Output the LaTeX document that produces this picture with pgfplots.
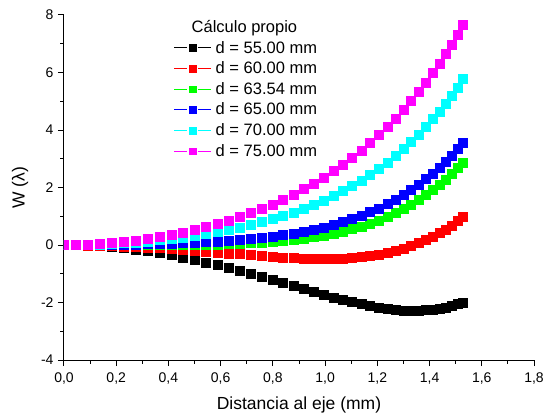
\documentclass[border=0pt]{standalone}
\usepackage{pgfplots}
\pgfplotsset{compat=1.18}
\usepackage{pgfplotstable}
\usepackage{fontspec}
\setmainfont{Liberation Sans}

\definecolor{orred}{RGB}{255,0,0}
\definecolor{orgreen}{RGB}{0,255,0}
\definecolor{orblue}{RGB}{0,0,255}
\definecolor{orcyan}{RGB}{0,255,255}
\definecolor{ormagenta}{RGB}{255,0,255}

% x (mm) and W for d = 55, 60, 63.54, 65, 70, 75 mm
\pgfplotstableread{
x      d55     d60     d6354  d65    d70    d75
0      0       0       0      0      0      0
0.0461 -0.004  -0.002  0.000  0.001  0.003  0.004
0.0922 -0.018  -0.007  0.000  0.002  0.010  0.017
0.1383 -0.040  -0.016  0.000  0.005  0.023  0.039
0.1842 -0.071  -0.028  0.000  0.010  0.042  0.069
0.2300 -0.111  -0.043  0.000  0.015  0.065  0.108
0.2757 -0.158  -0.062  0.000  0.022  0.094  0.155
0.3211 -0.214  -0.083  0.001  0.031  0.128  0.211
0.3663 -0.278  -0.107  0.002  0.041  0.168  0.276
0.4112 -0.348  -0.134  0.004  0.053  0.213  0.349
0.4558 -0.426  -0.162  0.007  0.068  0.264  0.431
0.5001 -0.510  -0.192  0.011  0.084  0.321  0.522
0.5441 -0.599  -0.223  0.018  0.104  0.384  0.622
0.5876 -0.694  -0.255  0.026  0.127  0.453  0.731
0.6307 -0.792  -0.287  0.036  0.153  0.529  0.849
0.6734 -0.895  -0.319  0.050  0.183  0.611  0.976
0.7156 -1.000  -0.349  0.067  0.217  0.701  1.113
0.7573 -1.107  -0.378  0.088  0.256  0.798  1.259
0.7984 -1.215  -0.404  0.114  0.300  0.902  1.416
0.8390 -1.322  -0.428  0.145  0.350  1.015  1.582
0.8787 -1.428  -0.447  0.181  0.406  1.136  1.758
0.9180 -1.533  -0.462  0.224  0.470  1.266  1.944
0.9565 -1.634  -0.471  0.273  0.540  1.405  2.141
0.9944 -1.731  -0.474  0.330  0.619  1.553  2.349
1.0315 -1.822  -0.470  0.395  0.706  1.711  2.568
1.0680 -1.908  -0.459  0.469  0.802  1.880  2.798
1.1036 -1.987  -0.439  0.551  0.907  2.058  3.038
1.1384 -2.058  -0.411  0.643  1.021  2.246  3.289
1.1724 -2.120  -0.373  0.745  1.146  2.445  3.551
1.2055 -2.173  -0.326  0.856  1.280  2.654  3.823
1.2378 -2.215  -0.268  0.978  1.425  2.873  4.106
1.2692 -2.248  -0.200  1.109  1.580  3.102  4.399
1.2997 -2.269  -0.122  1.251  1.744  3.341  4.700
1.3292 -2.280  -0.034  1.402  1.918  3.588  5.010
1.3578 -2.279  0.064   1.563  2.101  3.844  5.328
1.3854 -2.267  0.172   1.733  2.293  4.107  5.652
1.4120 -2.245  0.289   1.910  2.493  4.377  5.982
1.4371 -2.212  0.413   2.092  2.695  4.646  6.309
1.4616 -2.169  0.546   2.283  2.906  4.925  6.645
1.4850 -2.118  0.685   2.478  3.122  5.206  6.981
1.5072 -2.058  0.830   2.676  3.340  5.487  7.315
1.5285 -1.990  0.980   2.879  3.561  5.769  7.650
}\wdata

\begin{document}
\begin{tikzpicture}
\begin{axis}[
    name=ax,
    scale only axis,
    width=470pt, height=345pt,
    xmin=0, xmax=1.8, ymin=-4, ymax=8,
    xtick={0,0.2,...,1.8}, ytick={-4,-2,...,8},
    minor x tick num=1, minor y tick num=1,
    axis x line*=bottom, axis y line*=left,
    axis line style={-, line width=1pt},
    tick align=outside,
    major tick length=6pt, minor tick length=3.5pt,
    every tick/.style={black, line width=1pt},
    tick label style={font=\fontsize{14}{16}\selectfont},
    xticklabel style={yshift=-3pt, /pgf/number format/.cd, fixed, fixed zerofill, precision=1, use comma, assume math mode=true},
    yticklabel style={xshift=-1pt, /pgf/number format/assume math mode=true},
    xlabel={Distancia al eje (mm)},
    ylabel={W (λ)},
    label style={font=\fontsize{17.5}{20}\selectfont},
    xlabel style={yshift=-6pt},
    ylabel style={yshift=6pt},
    clip marker paths=true,
    legend cell align=left,
    legend style={at={(axis cs:0.409,7.93)}, anchor=north west, draw=none, fill=none,
        font=\fontsize{16.5}{19}\selectfont, row sep=5.2pt,
        nodes={inner sep=1pt}},
    legend image code/.code={
        \draw[#1, mark=none, line width=0.7pt] (0pt,0pt) -- (13pt,0pt);
        \draw[#1, mark=none, line width=0.7pt] (24pt,0pt) -- (37pt,0pt);
        \draw[#1, mark size=3.3pt] plot coordinates {(18.5pt,0pt)};
    },
]
\addlegendimage{empty legend}
\addlegendentry{\hspace{-21pt}Cálculo propio}
\addplot[only marks, mark=square*, mark size=4.5pt, color=black] table[x=x, y=d55] {\wdata};
\addlegendentry{\hspace{3pt}d = 55.00 mm}
\addplot[only marks, mark=square*, mark size=4.5pt, color=orred] table[x=x, y=d60] {\wdata};
\addlegendentry{\hspace{3pt}d = 60.00 mm}
\addplot[only marks, mark=square*, mark size=4.5pt, color=orgreen] table[x=x, y=d6354] {\wdata};
\addlegendentry{\hspace{3pt}d = 63.54 mm}
\addplot[only marks, mark=square*, mark size=4.5pt, color=orblue] table[x=x, y=d65] {\wdata};
\addlegendentry{\hspace{3pt}d = 65.00 mm}
\addplot[only marks, mark=square*, mark size=4.5pt, color=orcyan] table[x=x, y=d70] {\wdata};
\addlegendentry{\hspace{3pt}d = 70.00 mm}
\addplot[only marks, mark=square*, mark size=4.5pt, color=ormagenta] table[x=x, y=d75] {\wdata};
\addlegendentry{\hspace{3pt}d = 75.00 mm}
\end{axis}
\pgfresetboundingbox
\path[use as bounding box] ([shift={(-64pt,-57pt)}]ax.south west) rectangle ([shift={(12pt,15pt)}]ax.north east);
\end{tikzpicture}
\end{document}
